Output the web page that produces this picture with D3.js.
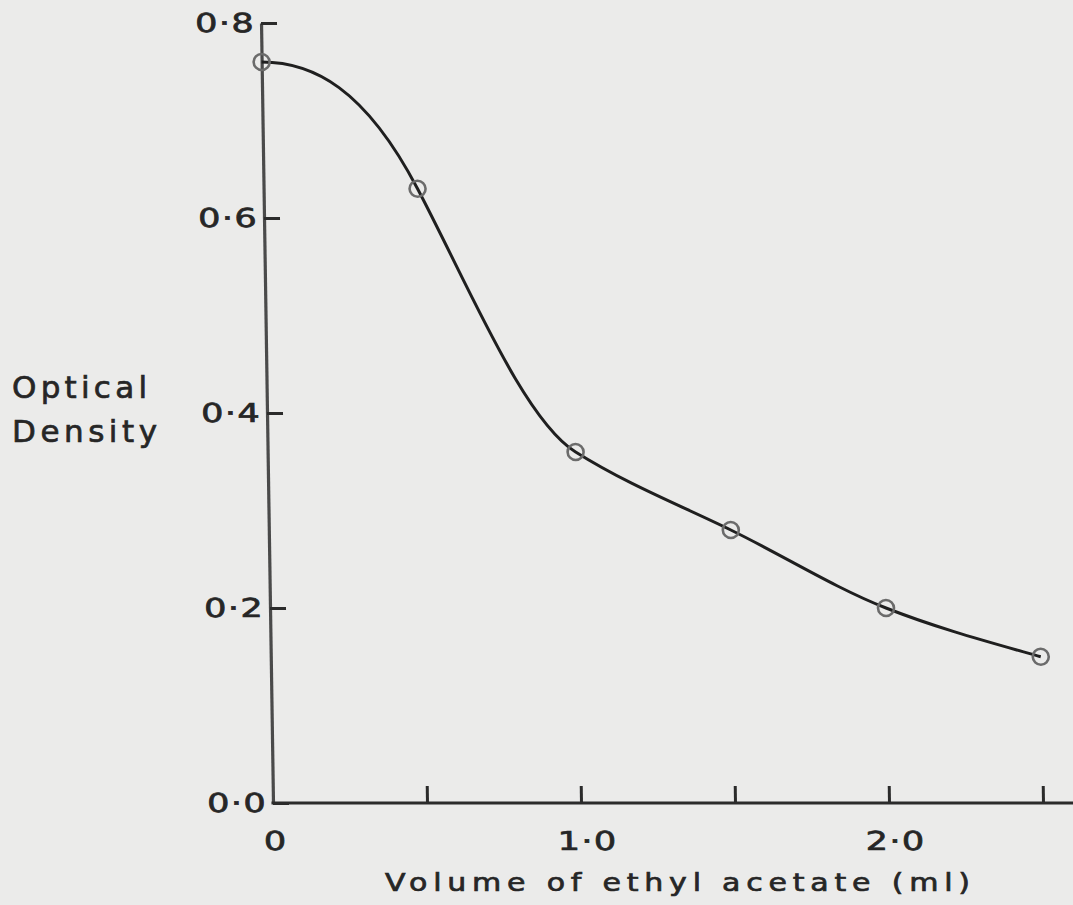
<!DOCTYPE html>
<html>
<head>
<meta charset="utf-8">
<script src="https://cdn.jsdelivr.net/npm/d3@7/dist/d3.min.js"></script>
<style>
  html, body { margin: 0; padding: 0; background: #ebebea; }
  svg { display: block; }
  text { font-family: "DejaVu Sans", sans-serif; fill: #262626; stroke: #262626; stroke-width: 0.7; }
</style>
</head>
<body>
<script>
// Optical density of the extract against volume of ethyl acetate added
const volumes = [0, 0.5, 1.0, 1.5, 2.0, 2.5];          // ml
const densities = [0.76, 0.63, 0.36, 0.28, 0.20, 0.15]; // optical density
// slope of the drawn curve at each measurement (optical density per ml)
const slopes = [0, -0.62, -0.2, -0.155, -0.125, -0.09];

const yTicks = [0, 0.2, 0.4, 0.6, 0.8];
const yTickLabels = ["0·0", "0·2", "0·4", "0·6", "0·8"];
const xTicks = [0.5, 1.0, 1.5, 2.0, 2.5];
const xTickLabels = [
  { v: 0, text: "0" },
  { v: 1.0, text: "1·0" },
  { v: 2.0, text: "2·0" }
];
const xTitle = "Volume of ethyl acetate (ml)";
const yTitle = ["Optical", "Density"];

const W = 1073, H = 905;
const svg = d3.select("body").append("svg").attr("width", W).attr("height", H);

const x = d3.scaleLinear().domain([0, 2.6]).range([273, 273 + 2.6 * 308]);
const y = d3.scaleLinear().domain([0, 0.8]).range([803, 23]);

// hand-ruled axes lean slightly: shear the plot about the baseline
const g = svg.append("g")
  .attr("transform", `translate(0,${y(0)}) skewX(0.88) translate(0,${-y(0)})`);

const ink = "#2b2b2b";
const wide = 1.35; // broad stencil lettering for the numerals

// y axis with inward ticks
const yAxis = d3.axisRight(y).tickValues(yTicks).tickSize(16).tickSizeOuter(0).tickFormat("");
const ya = g.append("g").attr("transform", `translate(${x(0)},0)`).call(yAxis);
ya.select(".domain").attr("stroke", "#4a4a4a").attr("stroke-width", 3.2);
ya.selectAll(".tick line").attr("stroke", ink).attr("stroke-width", 3);

// y tick labels, to the left of the axis
g.selectAll(".ylab").data(yTicks).join("text")
  .attr("class", "ylab")
  .attr("transform", d => `translate(${x(0) - 6},${y(d)}) scale(${wide},1)`)
  .attr("dy", "0.36em")
  .attr("text-anchor", "end")
  .attr("font-size", 26)
  .attr("letter-spacing", 1)
  .text((d, i) => yTickLabels[i]);

// x axis with inward ticks
const xAxis = d3.axisTop(x).tickValues(xTicks).tickSize(17).tickSizeOuter(0).tickFormat("");
const xa = g.append("g").attr("transform", `translate(0,${y(0)})`).call(xAxis);
xa.select(".domain").attr("stroke", ink).attr("stroke-width", 3.2)
  .attr("d", `M${x(0) - 1.5},0H${W + 20}`);
xa.selectAll(".tick line").attr("stroke", ink).attr("stroke-width", 3);

// x tick labels
g.selectAll(".xlab").data(xTickLabels).join("text")
  .attr("class", "xlab")
  .attr("transform", d => `translate(${x(d.v) + (d.v === 0 ? 2 : 6)},850) scale(${wide},1)`)
  .attr("text-anchor", "middle")
  .attr("font-size", 26)
  .attr("letter-spacing", 1)
  .text(d => d.text);

// smooth curve through the measurements: cubic Hermite segments
// built from each point's value and slope, mapped through the scales
const curve = d3.path();
volumes.forEach((v, i) => {
  if (i === 0) { curve.moveTo(x(v), y(densities[i])); return; }
  const v0 = volumes[i - 1], d0 = densities[i - 1], h = (v - v0) / 3;
  curve.bezierCurveTo(
    x(v0 + h), y(d0 + slopes[i - 1] * h),
    x(v - h), y(densities[i] - slopes[i] * h),
    x(v), y(densities[i]));
});
g.append("path")
  .attr("d", curve.toString())
  .attr("fill", "none")
  .attr("stroke", "#1f1f1f")
  .attr("stroke-width", 3);

// measured points
const pts = volumes.map((v, i) => [v, densities[i]]);
g.selectAll(".pt").data(pts).join("circle")
  .attr("class", "pt")
  .attr("cx", d => x(d[0]))
  .attr("cy", d => y(d[1]))
  .attr("r", 8)
  .attr("fill", "none")
  .attr("stroke", "#6b6b6b")
  .attr("stroke-width", 2.6);

// axis titles
const titleScale = 1.2;
svg.append("text")
  .attr("transform", `translate(385,891) scale(${titleScale},1)`)
  .attr("font-size", 25)
  .attr("textLength", 585 / titleScale)
  .attr("lengthAdjust", "spacing")
  .text(xTitle);

svg.selectAll(".ytitle").data(yTitle).join("text")
  .attr("class", "ytitle")
  .attr("x", 12)
  .attr("y", (d, i) => 398 + i * 44)
  .attr("font-size", 31)
  .attr("textLength", (d, i) => i === 0 ? 135 : 145)
  .attr("lengthAdjust", "spacing")
  .text(d => d);
</script>
</body>
</html>
